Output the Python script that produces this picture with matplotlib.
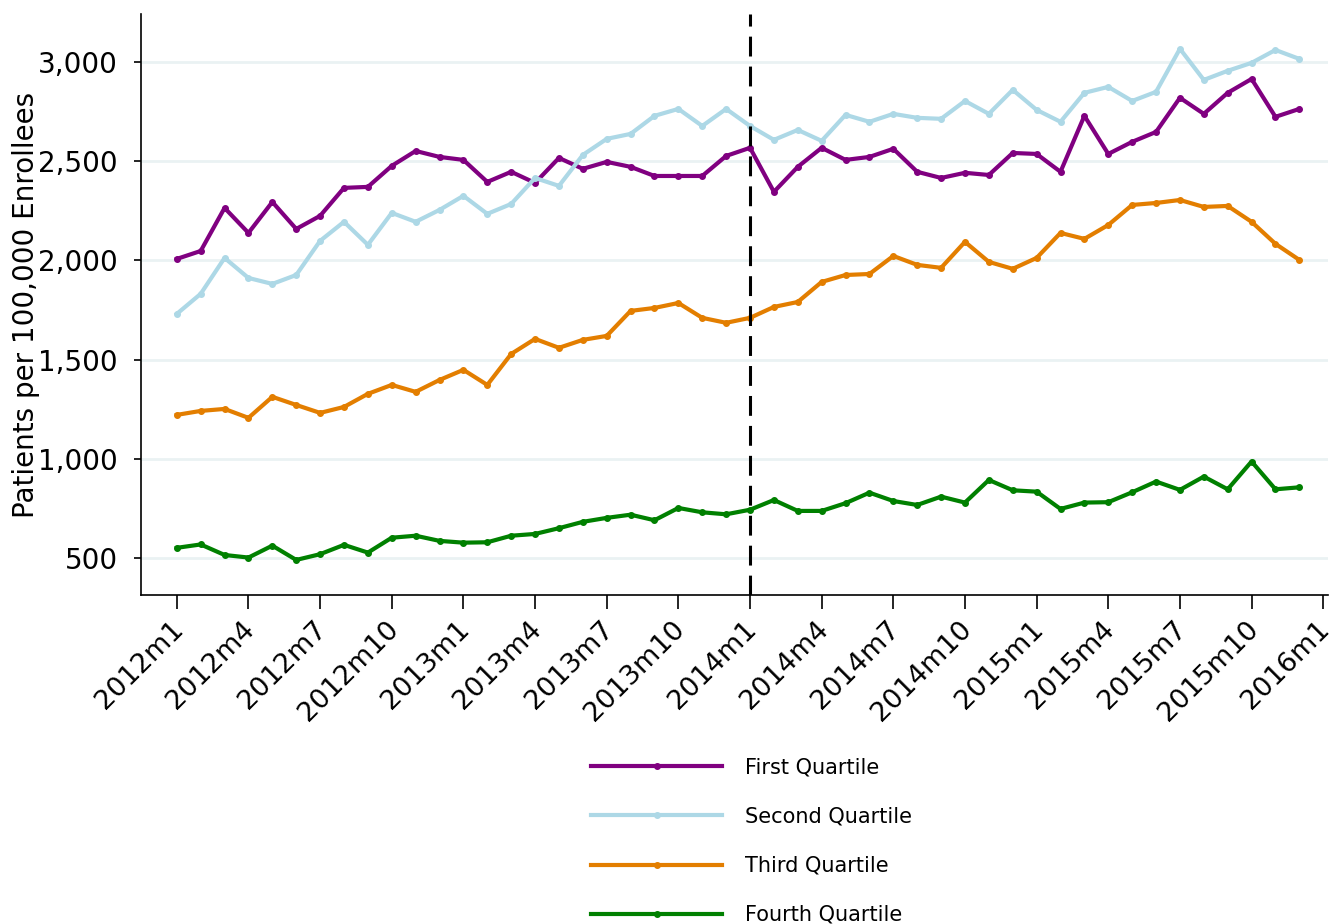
import matplotlib.pyplot as plt
import matplotlib.transforms as mtransforms
import numpy as np

plt.rcParams['font.family'] = ['DejaVu Sans']

# monthly series, 2012m1 .. 2015m12
first_q = [2007, 2047, 2264, 2138, 2294, 2158, 2224, 2365, 2370, 2476, 2551, 2521,
           2506, 2395, 2446, 2390, 2516, 2461, 2496, 2471, 2425, 2425, 2425, 2526,
           2567, 2345, 2471, 2567, 2506, 2521, 2562, 2446, 2415, 2441, 2430, 2541,
           2536, 2446, 2728, 2536, 2597, 2647, 2819, 2738, 2844, 2914, 2723, 2763]
second_q = [1730, 1831, 2012, 1911, 1881, 1926, 2098, 2194, 2078, 2239, 2194, 2254,
            2325, 2234, 2284, 2415, 2375, 2531, 2612, 2637, 2728, 2763, 2677, 2763,
            2677, 2607, 2657, 2602, 2733, 2698, 2738, 2718, 2713, 2803, 2738, 2859,
            2758, 2698, 2844, 2874, 2803, 2849, 3066, 2909, 2955, 2995, 3060, 3015]
third_q = [1221, 1241, 1251, 1206, 1312, 1271, 1231, 1261, 1327, 1372, 1337, 1397,
           1448, 1372, 1528, 1604, 1559, 1599, 1619, 1745, 1760, 1785, 1710, 1685,
           1710, 1765, 1790, 1891, 1926, 1931, 2022, 1977, 1962, 2093, 1992, 1957,
           2012, 2138, 2108, 2178, 2279, 2289, 2304, 2269, 2274, 2194, 2083, 2002]
fourth_q = [551, 568, 515, 502, 562, 490, 519, 566, 527, 602, 612, 586,
            577, 579, 612, 621, 650, 682, 702, 718, 690, 752, 730, 720,
            743, 792, 737, 737, 776, 829, 787, 767, 809, 779, 893, 841,
            834, 747, 779, 781, 831, 885, 843, 910, 846, 986, 846, 856]

series = [first_q, second_q, third_q, fourth_q]
names = ["First Quartile", "Second Quartile", "Third Quartile", "Fourth Quartile"]
colors = ["#800080", "#add8e6", "#e37e00", "#008000"]

months = np.arange(len(first_q))
tick_pos = np.arange(0, 49, 3)
tick_lab = [f"{2012 + p // 12}m{p % 12 + 1}" for p in tick_pos]
policy_month = 24  # 2014m1

fig = plt.figure(figsize=(13.3, 9.24), dpi=100)
ax = fig.add_axes([0.106, 0.356, 0.8925, 0.629])

ax.grid(axis='y', color='#eaf2f3', linewidth=2)
ax.set_axisbelow(True)

for vals, name, col in zip(series, names, colors):
    ax.plot(months, vals, color=col, linewidth=3, marker='o', markersize=4, label=name)

ax.axvline(policy_month, color='black', linestyle=(0, (6.5, 3.3)), linewidth=2.2)

ax.set_xlim(-1.5, 48.2)
ax.set_ylim(313, 3242)
ax.set_xticks(tick_pos)
ax.set_xticklabels(tick_lab, rotation=45, ha='right', rotation_mode='anchor', fontsize=19.5)
ax.set_yticks([500, 1000, 1500, 2000, 2500, 3000])
ax.set_yticklabels(["500", "1,000", "1,500", "2,000", "2,500", "3,000"], fontsize=20)
ax.set_ylabel("Patients per 100,000 Enrollees", fontsize=20, labelpad=-1)
ax.tick_params(axis='x', length=10, width=1.2, pad=4)
ax.tick_params(axis='y', length=5, width=1.2, pad=11.5)

# nudge the slanted date labels a little left so the last one stays inside
shift = mtransforms.ScaledTranslation(-0.065, -0.02, fig.dpi_scale_trans)
for lab in ax.get_xticklabels():
    lab.set_transform(lab.get_transform() + shift)

ax.spines['top'].set_visible(False)
ax.spines['right'].set_visible(False)
ax.spines['left'].set_linewidth(1.2)
ax.spines['bottom'].set_linewidth(1.2)

fig.legend(loc='upper left', bbox_to_anchor=(0.44, 0.187), frameon=False,
           fontsize=15, handlelength=6.25, handletextpad=1.1, labelspacing=1.4,
           borderaxespad=0, borderpad=0.3)

fig.savefig('out.png', dpi=100)
